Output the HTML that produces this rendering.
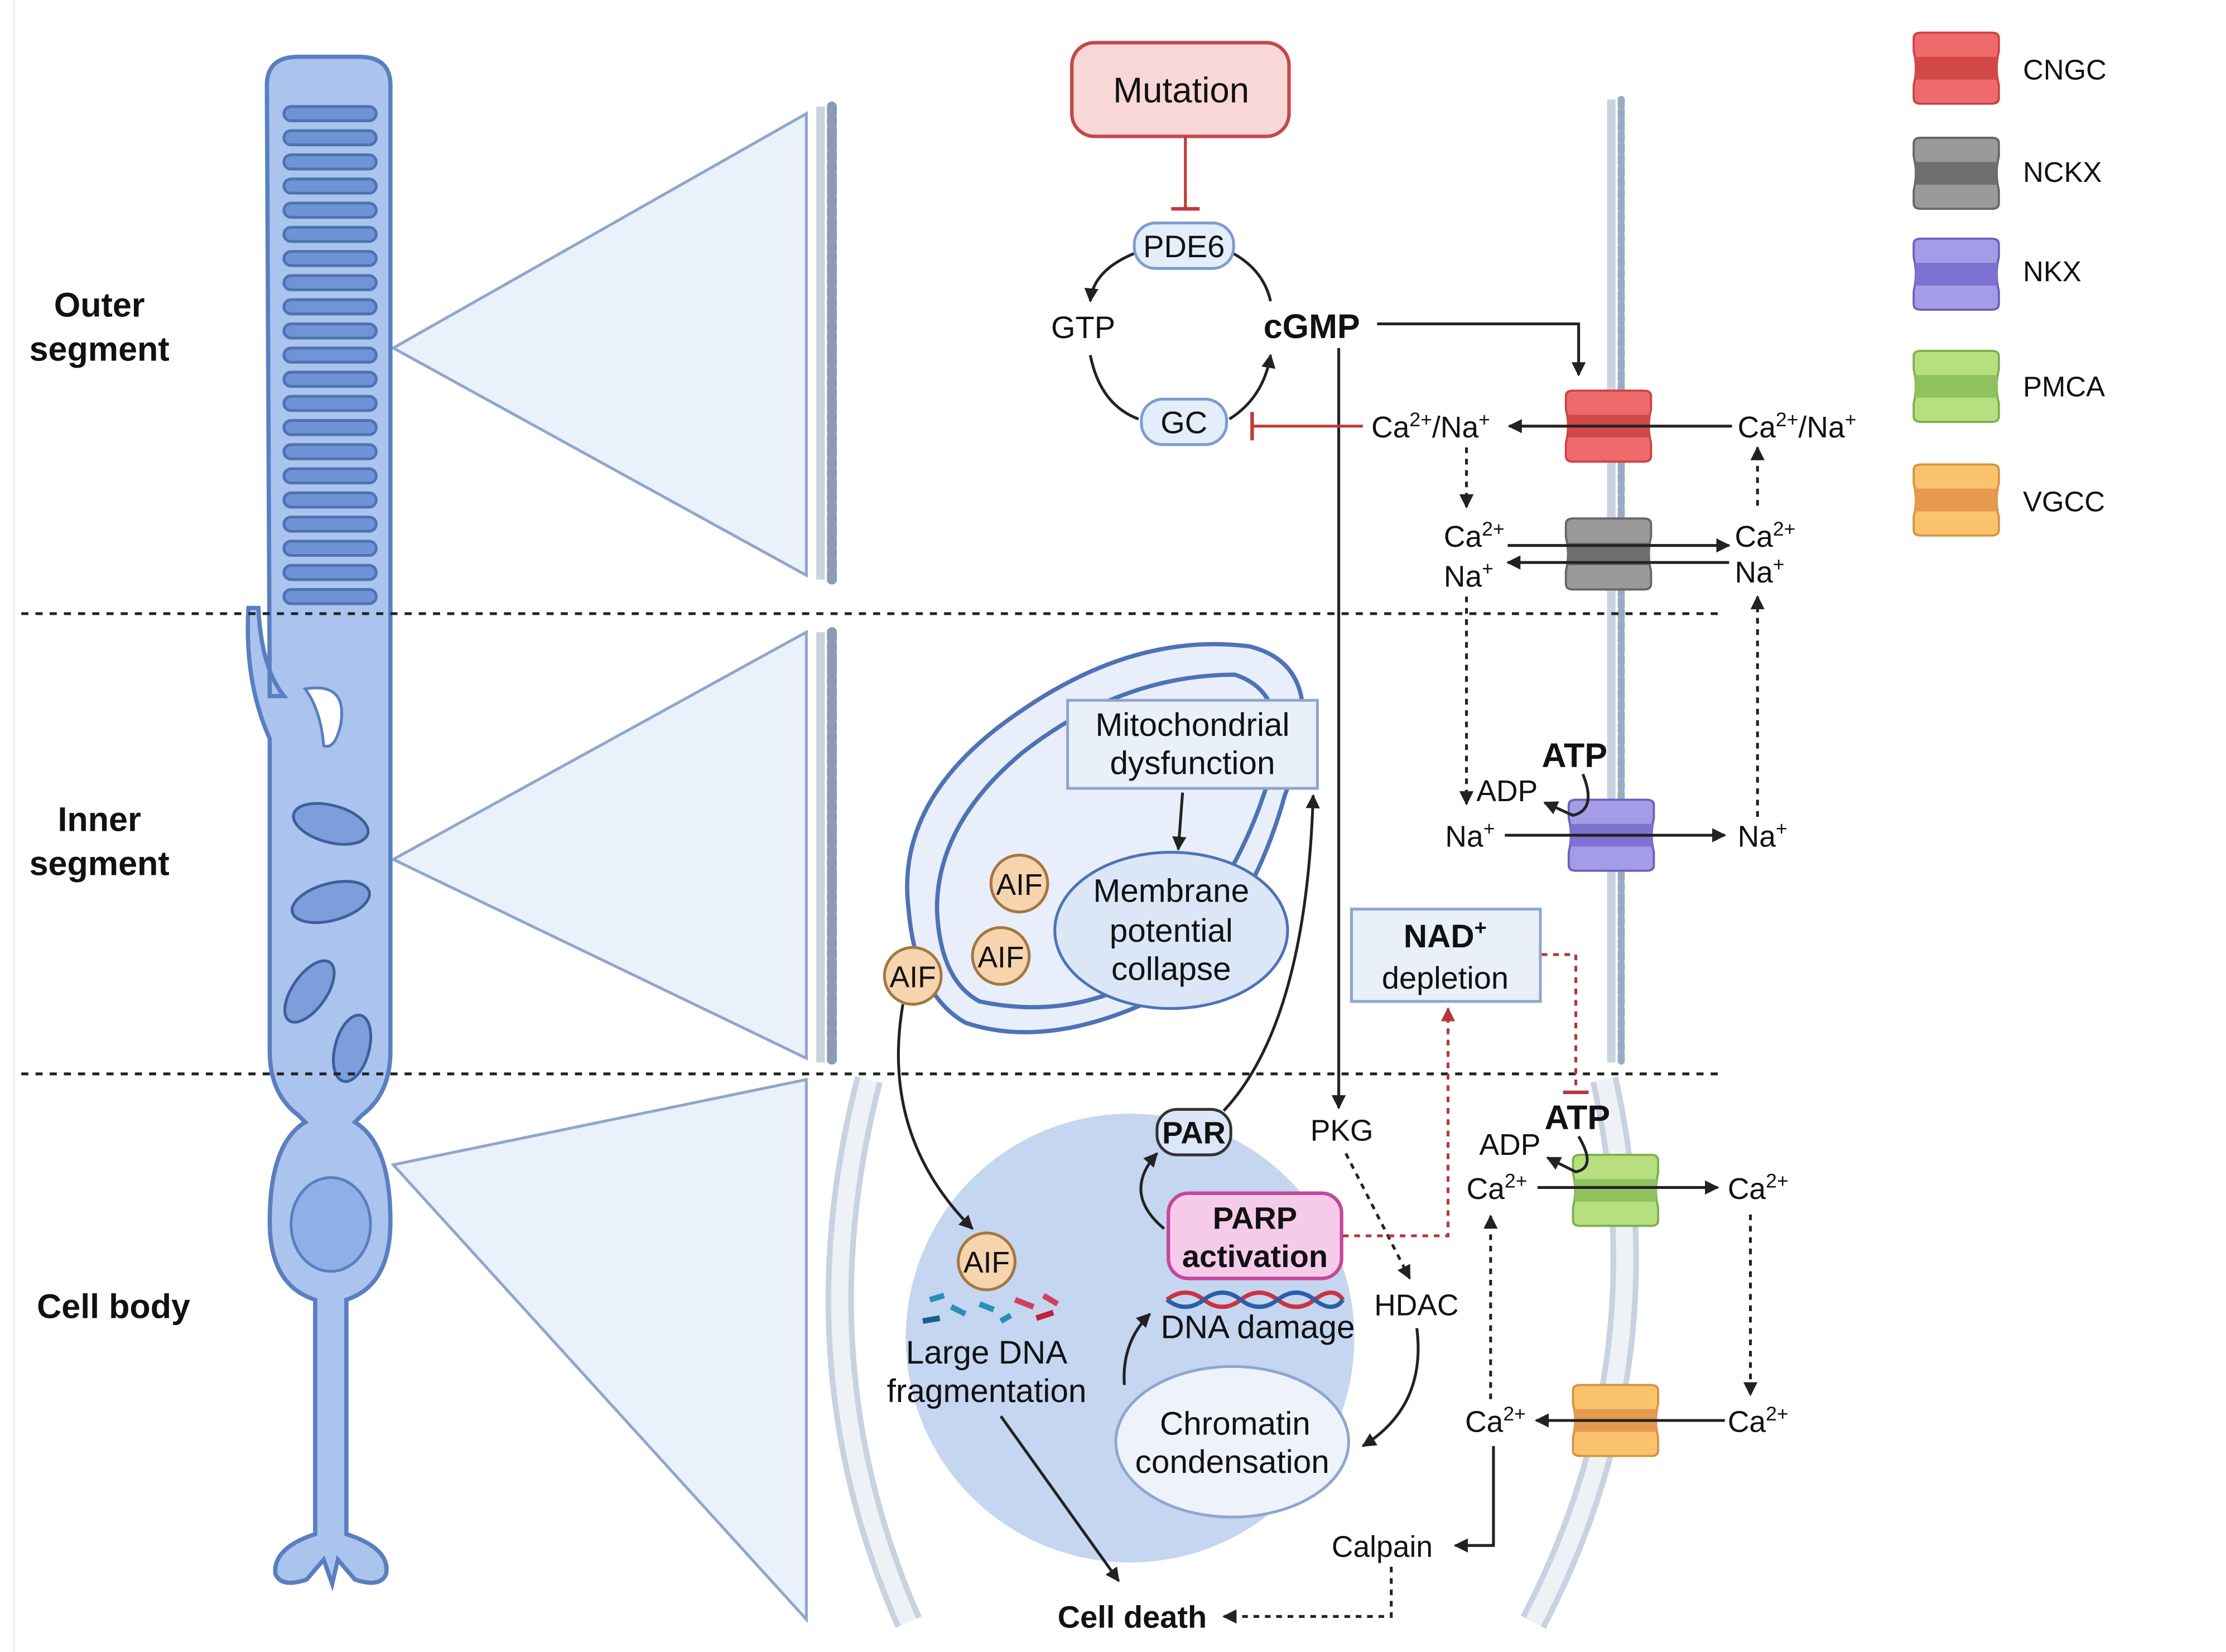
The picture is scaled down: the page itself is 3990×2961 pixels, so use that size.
<!DOCTYPE html>
<html><head><meta charset="utf-8"><style>html,body{margin:0;padding:0;background:#fff}svg{display:block}</style></head>
<body>
<svg width="3990" height="2961" viewBox="0 0 1568 1163" preserveAspectRatio="none" xmlns="http://www.w3.org/2000/svg" font-family="Liberation Sans, sans-serif">
<defs>
<marker id="ah" viewBox="0 0 10 10" refX="9" refY="5" markerWidth="5" markerHeight="5" orient="auto-start-reverse"><path d="M0,0 L10,5 L0,10 z" fill="#222"/></marker>
<marker id="ahr" viewBox="0 0 10 10" refX="9" refY="5" markerWidth="5" markerHeight="5" orient="auto"><path d="M0,0 L10,5 L0,10 z" fill="#b5363a"/></marker>
<path id="ch" d="M-30,-21 Q-30,-25 -25,-25 L25,-25 Q30,-25 30,-21 L30,-12 Q27,0 30,12 L30,21 Q30,25 25,25 L-25,25 Q-30,25 -30,21 L-30,12 Q-27,0 -30,-12 Z"/>
</defs>
<rect width="1600" height="1200" fill="#fff"/>
<line x1="10" y1="0" x2="10" y2="1163" stroke="#eee" stroke-width="1"/>

<g fill="#ebf1fb" stroke="#8fa6cc" stroke-width="2">
<path d="M277,245 L568,80 L568,405 Z"/>
<path d="M277,605 L568,445 L568,745 Z"/>
<path d="M277,820 L568,760 L568,1140 Z"/>
</g>
<g stroke="#c9d3e0" stroke-width="6"><line x1="578" y1="75" x2="578" y2="408"/><line x1="578" y1="445" x2="578" y2="748"/><line x1="1135" y1="70" x2="1135" y2="748"/></g>
<g stroke="#8a9bb3" stroke-width="7" stroke-dasharray="5 3" stroke-linecap="round"><line x1="586" y1="75" x2="586" y2="408"/><line x1="586" y1="445" x2="586" y2="748"/><line x1="1142" y1="70" x2="1142" y2="748" stroke-width="5" stroke="#9aaac0"/></g>
<g fill="none">
<path d="M612,760 Q560,960 640,1142" stroke="#c8d2e0" stroke-width="20"/>
<path d="M612,760 Q560,960 640,1142" stroke="#eef2f7" stroke-width="12"/>
<path d="M1130,760 Q1175,960 1080,1142" stroke="#c8d2e0" stroke-width="20"/>
<path d="M1130,760 Q1175,960 1080,1142" stroke="#eef2f7" stroke-width="12"/>
</g>

<g fill="#aac4ee" stroke="#5a7fc0" stroke-width="3">
<path d="M188,60 Q188,40 210,40 L253,40 Q275,40 275,60 L275,740 Q275,770 255,785 L250,790 Q275,805 275,860 Q275,905 244,915 L244,1080 Q275,1090 272,1108 Q268,1118 250,1112 L238,1098 L234,1115 L228,1098 L216,1112 Q198,1118 194,1108 Q192,1090 222,1080 L222,915 Q190,905 190,860 Q190,805 215,790 L210,785 Q190,770 190,740 L190,520 Q172,480 175,428 L182,428 Q184,470 200,490 L190,490 Z"/>
</g>
<path d="M215,485 Q245,480 240,510 Q236,528 228,525 Q226,500 215,485 Z" fill="#fff" stroke="#5a7fc0" stroke-width="2"/>
<ellipse cx="233" cy="862" rx="28" ry="33" fill="#8fb0e6" stroke="#5a7fc0" stroke-width="2"/>
<g fill="#6f93d4" stroke="#4f72b2" stroke-width="2">
<rect x="200" y="75" width="65" height="10" rx="5"/><rect x="200" y="92" width="65" height="10" rx="5"/><rect x="200" y="109" width="65" height="10" rx="5"/><rect x="200" y="126" width="65" height="10" rx="5"/><rect x="200" y="143" width="65" height="10" rx="5"/><rect x="200" y="160" width="65" height="10" rx="5"/><rect x="200" y="177" width="65" height="10" rx="5"/><rect x="200" y="194" width="65" height="10" rx="5"/><rect x="200" y="211" width="65" height="10" rx="5"/><rect x="200" y="228" width="65" height="10" rx="5"/><rect x="200" y="245" width="65" height="10" rx="5"/><rect x="200" y="262" width="65" height="10" rx="5"/><rect x="200" y="279" width="65" height="10" rx="5"/><rect x="200" y="296" width="65" height="10" rx="5"/><rect x="200" y="313" width="65" height="10" rx="5"/><rect x="200" y="330" width="65" height="10" rx="5"/><rect x="200" y="347" width="65" height="10" rx="5"/><rect x="200" y="364" width="65" height="10" rx="5"/><rect x="200" y="381" width="65" height="10" rx="5"/><rect x="200" y="398" width="65" height="10" rx="5"/><rect x="200" y="415" width="65" height="10" rx="5"/>
</g>
<g fill="#7d9ddb" stroke="#3e5f9e" stroke-width="2">
<ellipse cx="233" cy="580" rx="27" ry="13" transform="rotate(15 233 580)"/>
<ellipse cx="233" cy="635" rx="28" ry="13" transform="rotate(-15 233 635)"/>
<ellipse cx="218" cy="698" rx="25" ry="12" transform="rotate(-55 218 698)"/>
<ellipse cx="248" cy="738" rx="24" ry="12" transform="rotate(-75 248 738)"/>
</g>

<g stroke="#222" stroke-width="2" stroke-dasharray="5 5"><line x1="15" y1="432" x2="1210" y2="432"/><line x1="15" y1="756" x2="1210" y2="756"/></g>

<g font-weight="bold" font-size="24" text-anchor="middle" fill="#111">
<text x="70" y="223">Outer</text><text x="70" y="254">segment</text>
<text x="70" y="585">Inner</text><text x="70" y="616">segment</text>
<text x="80" y="928">Cell body</text>
</g>

<path d="M640,640 Q630,560 720,500 Q800,445 880,455 Q940,470 905,560 Q880,650 820,700 Q740,740 680,720 Q645,700 640,640 Z" fill="#e8effa" stroke="#4e72b5" stroke-width="3"/>
<path d="M660,640 Q660,580 720,530 Q790,475 870,475 Q915,490 890,560 Q870,620 820,680 Q760,720 690,705 Q662,690 660,640 Z" fill="none" stroke="#4e72b5" stroke-width="3"/>
<ellipse cx="825" cy="655" rx="82" ry="55" fill="#dbe7f7" stroke="#4e72b5" stroke-width="2"/>
<g font-size="23" text-anchor="middle" fill="#111"><text x="825" y="635">Membrane</text><text x="825" y="663">potential</text><text x="825" y="690">collapse</text></g>
<rect x="752" y="493" width="176" height="62" fill="#e9f0fa" stroke="#8fa6cc" stroke-width="2"/>
<g font-size="23" text-anchor="middle" fill="#111"><text x="840" y="518">Mitochondrial</text><text x="840" y="545">dysfunction</text></g>
<line x1="833" y1="558" x2="830" y2="598" stroke="#222" stroke-width="2" marker-end="url(#ah)"/>

<circle cx="796" cy="942" r="158" fill="#c4d6f0"/>
<ellipse cx="868" cy="1015" rx="82" ry="53" fill="#eef3fb" stroke="#8fa6cc" stroke-width="2"/>
<g font-size="23" text-anchor="middle" fill="#111"><text x="870" y="1010">Chromatin</text><text x="868" y="1037">condensation</text></g>

<g fill="#f6d4ae" stroke="#a4773f" stroke-width="2"><circle cx="718" cy="622" r="20"/><circle cx="705" cy="673" r="20"/><circle cx="643" cy="687" r="20"/><circle cx="695" cy="888" r="20"/></g>
<g font-size="21" text-anchor="middle" fill="#111"><text x="718" y="630">AIF</text><text x="705" y="681">AIF</text><text x="643" y="695">AIF</text><text x="695" y="896">AIF</text></g>
<path d="M636,707 Q620,800 685,865" fill="none" stroke="#222" stroke-width="2" marker-end="url(#ah)"/>

<g stroke-width="4"><line x1="655" y1="915" x2="665" y2="912" stroke="#2a8fb8"/><line x1="670" y1="920" x2="680" y2="925" stroke="#2a8fb8"/><line x1="650" y1="930" x2="662" y2="928" stroke="#1a5f8a"/><line x1="690" y1="918" x2="700" y2="922" stroke="#2a8fb8"/><line x1="715" y1="915" x2="728" y2="920" stroke="#d04060"/><line x1="730" y1="928" x2="742" y2="924" stroke="#c02040"/><line x1="735" y1="912" x2="745" y2="918" stroke="#d04060"/><line x1="705" y1="930" x2="712" y2="926" stroke="#2a8fb8"/></g>
<g font-size="23" text-anchor="middle" fill="#111"><text x="695" y="960">Large DNA</text><text x="695" y="987">fragmentation</text></g>
<line x1="705" y1="997" x2="788" y2="1113" stroke="#222" stroke-width="2" marker-end="url(#ah)"/>

<path d="M822,915 Q835,905 848,915 T874,915 T900,915 T926,915 T946,915" fill="none" stroke="#d03040" stroke-width="3"/>
<path d="M822,915 Q835,925 848,915 T874,915 T900,915 T926,915 T946,915" fill="none" stroke="#2a5fa8" stroke-width="3"/>
<text x="886" y="942" font-size="23" text-anchor="middle" fill="#111">DNA damage</text>
<path d="M792,975 Q790,945 810,925" fill="none" stroke="#222" stroke-width="2" marker-end="url(#ah)"/>

<rect x="823" y="840" width="122" height="60" rx="14" fill="#f6cbea" stroke="#c4479b" stroke-width="2.5"/>
<g font-size="22" font-weight="bold" text-anchor="middle" fill="#111"><text x="884" y="865">PARP</text><text x="884" y="892">activation</text></g>
<rect x="815" y="781" width="52" height="32" rx="14" fill="#dbe7f7" stroke="#333" stroke-width="2"/>
<text x="841" y="805" font-size="22" font-weight="bold" text-anchor="middle" fill="#111">PAR</text>
<path d="M820,865 Q790,840 815,812" fill="none" stroke="#222" stroke-width="2" marker-end="url(#ah)"/>
<path d="M862,782 Q920,720 925,560" fill="none" stroke="#222" stroke-width="2" marker-end="url(#ah)"/>

<rect x="755" y="30" width="153" height="66" rx="16" fill="#f9d7d7" stroke="#c24a4a" stroke-width="2.5"/>
<text x="832" y="72" font-size="25" text-anchor="middle" fill="#111">Mutation</text>
<line x1="835" y1="96" x2="835" y2="146" stroke="#c0393b" stroke-width="2"/><line x1="825" y1="147" x2="845" y2="147" stroke="#c0393b" stroke-width="2.5"/>
<g fill="none" stroke="#222" stroke-width="2">
<path d="M800,178 Q770,190 768,212" marker-end="url(#ah)"/>
<path d="M768,250 Q775,285 802,295"/>
<path d="M866,295 Q890,280 895,250" marker-end="url(#ah)"/>
<path d="M895,212 Q890,190 868,178"/>
</g>
<rect x="799" y="157" width="70" height="32" rx="15" fill="#e3eefa" stroke="#7b9ccf" stroke-width="2"/>
<text x="834" y="181" font-size="22" text-anchor="middle" fill="#111">PDE6</text>
<rect x="804" y="281" width="60" height="32" rx="15" fill="#e3eefa" stroke="#7b9ccf" stroke-width="2"/>
<text x="834" y="305" font-size="22" text-anchor="middle" fill="#111">GC</text>
<text x="763" y="238" font-size="22" text-anchor="middle" fill="#111">GTP</text>
<text x="924" y="238" font-size="24" font-weight="bold" text-anchor="middle" fill="#111">cGMP</text>
<path d="M970,228 L1112,228 L1112,264" fill="none" stroke="#222" stroke-width="2" marker-end="url(#ah)"/>
<line x1="943" y1="245" x2="943" y2="780" stroke="#222" stroke-width="2" marker-end="url(#ah)"/>
<line x1="960" y1="300" x2="882" y2="300" stroke="#c0393b" stroke-width="2"/><line x1="882" y1="290" x2="882" y2="310" stroke="#c0393b" stroke-width="2.5"/>

<g transform="translate(1133,300)"><use href="#ch" fill="#ef6b6b" stroke="#c44" stroke-width="1.5"/><rect x="-29" y="-8" width="58" height="16" fill="#d24848"/></g>
<g transform="translate(1133,390)"><use href="#ch" fill="#9a9a9a" stroke="#666" stroke-width="1.5"/><rect x="-29" y="-8" width="58" height="16" fill="#6e6e6e"/></g>
<g transform="translate(1135,588)"><use href="#ch" fill="#a49ce6" stroke="#6a62b8" stroke-width="1.5"/><rect x="-29" y="-8" width="58" height="16" fill="#7d72d0"/></g>
<g transform="translate(1138,838)"><use href="#ch" fill="#b6e07f" stroke="#7fae4a" stroke-width="1.5"/><rect x="-29" y="-8" width="58" height="16" fill="#8fc25e"/></g>
<g transform="translate(1138,1000)"><use href="#ch" fill="#fbc26e" stroke="#d49440" stroke-width="1.5"/><rect x="-29" y="-8" width="58" height="16" fill="#e59a50"/></g>

<g font-size="21" fill="#111">
<text x="966" y="308">Ca<tspan font-size="14" dy="-8">2+</tspan><tspan dy="8">/Na</tspan><tspan font-size="14" dy="-8">+</tspan></text>
<text x="1224" y="308">Ca<tspan font-size="14" dy="-8">2+</tspan><tspan dy="8">/Na</tspan><tspan font-size="14" dy="-8">+</tspan></text>
<text x="1017" y="385">Ca<tspan font-size="14" dy="-8">2+</tspan></text>
<text x="1017" y="413">Na<tspan font-size="14" dy="-8">+</tspan></text>
<text x="1222" y="385">Ca<tspan font-size="14" dy="-8">2+</tspan></text>
<text x="1222" y="410">Na<tspan font-size="14" dy="-8">+</tspan></text>
<text x="1018" y="596">Na<tspan font-size="14" dy="-8">+</tspan></text>
<text x="1224" y="596">Na<tspan font-size="14" dy="-8">+</tspan></text>
<text x="1040" y="564">ADP</text>
<text x="1042" y="813">ADP</text>
<text x="1033" y="844">Ca<tspan font-size="14" dy="-8">2+</tspan></text>
<text x="1217" y="844">Ca<tspan font-size="14" dy="-8">2+</tspan></text>
<text x="1032" y="1008">Ca<tspan font-size="14" dy="-8">2+</tspan></text>
<text x="1217" y="1008">Ca<tspan font-size="14" dy="-8">2+</tspan></text>
<text x="923" y="803">PKG</text>
<text x="968" y="926">HDAC</text>
<text x="938" y="1096">Calpain</text>
</g>
<g font-size="24" font-weight="bold" fill="#111"><text x="1086" y="540">ATP</text><text x="1088" y="795">ATP</text><text x="745" y="1146" font-size="22">Cell death</text></g>

<g stroke="#222" stroke-width="2" fill="none">
<line x1="1220" y1="300" x2="1063" y2="300" marker-end="url(#ah)"/>
<line x1="1062" y1="384" x2="1218" y2="384" marker-end="url(#ah)"/>
<line x1="1218" y1="396" x2="1062" y2="396" marker-end="url(#ah)"/>
<line x1="1060" y1="588" x2="1215" y2="588" marker-end="url(#ah)"/>
<line x1="1083" y1="836" x2="1210" y2="836" marker-end="url(#ah)"/>
<line x1="1215" y1="1000" x2="1082" y2="1000" marker-end="url(#ah)"/>
<path d="M1115,545 Q1125,570 1108,574 L1088,565" marker-end="url(#ah)"/>
<path d="M1112,800 Q1125,822 1110,825 L1090,815" marker-end="url(#ah)"/>
<path d="M998,935 Q1005,990 960,1018" marker-end="url(#ah)"/>
<path d="M1052,1018 L1052,1088 L1025,1088" marker-end="url(#ah)"/>
</g>
<g stroke="#222" stroke-width="2" fill="none" stroke-dasharray="4 4">
<line x1="1033" y1="315" x2="1033" y2="357" marker-end="url(#ah)"/>
<line x1="1238" y1="356" x2="1238" y2="315" marker-end="url(#ah)"/>
<line x1="1033" y1="420" x2="1033" y2="566" marker-end="url(#ah)"/>
<line x1="1238" y1="575" x2="1238" y2="420" marker-end="url(#ah)"/>
<line x1="1233" y1="855" x2="1233" y2="982" marker-end="url(#ah)"/>
<line x1="1050" y1="985" x2="1050" y2="856" marker-end="url(#ah)"/>
<line x1="948" y1="812" x2="993" y2="900" marker-end="url(#ah)"/>
<path d="M980,1103 L980,1138 L862,1138" marker-end="url(#ah)"/>
</g>

<rect x="952" y="640" width="133" height="65" fill="#e9f0fa" stroke="#8fa6cc" stroke-width="2"/>
<text x="1018" y="667" font-size="23" font-weight="bold" text-anchor="middle" fill="#111">NAD<tspan font-size="15" dy="-9">+</tspan></text>
<text x="1018" y="696" font-size="22" text-anchor="middle" fill="#111">depletion</text>
<g stroke="#b5363a" stroke-width="2" fill="none" stroke-dasharray="4 4">
<path d="M1086,672 L1110,672 L1110,768"/>
<path d="M946,870 L1020,870 L1020,710" marker-end="url(#ahr)"/>
</g>
<line x1="1101" y1="769" x2="1119" y2="769" stroke="#b5363a" stroke-width="2.5"/>

<g transform="translate(1378,48)"><use href="#ch" fill="#ef6b6b" stroke="#c44" stroke-width="1.5"/><rect x="-29" y="-8" width="58" height="16" fill="#d24848"/></g>
<g transform="translate(1378,122)"><use href="#ch" fill="#9a9a9a" stroke="#666" stroke-width="1.5"/><rect x="-29" y="-8" width="58" height="16" fill="#6e6e6e"/></g>
<g transform="translate(1378,193)"><use href="#ch" fill="#a49ce6" stroke="#6a62b8" stroke-width="1.5"/><rect x="-29" y="-8" width="58" height="16" fill="#7d72d0"/></g>
<g transform="translate(1378,272)"><use href="#ch" fill="#b6e07f" stroke="#7fae4a" stroke-width="1.5"/><rect x="-29" y="-8" width="58" height="16" fill="#8fc25e"/></g>
<g transform="translate(1378,352)"><use href="#ch" fill="#fbc26e" stroke="#d49440" stroke-width="1.5"/><rect x="-29" y="-8" width="58" height="16" fill="#e59a50"/></g>
<g font-size="20" fill="#111"><text x="1425" y="56">CNGC</text><text x="1425" y="128">NCKX</text><text x="1425" y="198">NKX</text><text x="1425" y="279">PMCA</text><text x="1425" y="360">VGCC</text></g>
</svg>
</body></html>
